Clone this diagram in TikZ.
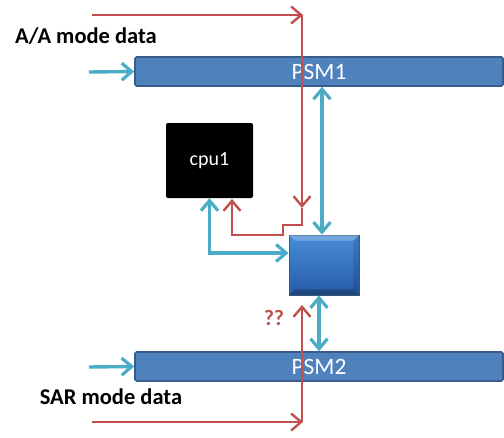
\documentclass[tikz,border=0pt]{standalone}
\usepackage{fontspec}
\setmainfont{Carlito}
\usetikzlibrary{arrows.meta,positioning,calc}
\definecolor{flowred}{RGB}{192,80,77}
\definecolor{linkcyan}{RGB}{75,172,198}
\definecolor{barblue}{RGB}{79,129,189}
\definecolor{barline}{RGB}{56,93,138}
\definecolor{hubtop}{RGB}{72,140,214}
\definecolor{hubbot}{RGB}{38,92,168}

\tikzset{
  psmbar/.style={draw=barline, line width=1.6pt, fill=barblue, rounded corners=1.5pt,
    minimum width=368pt, minimum height=29pt, inner sep=0pt, text=white, font=\fontsize{23.5}{23.5}\selectfont},
  cpubox/.style={fill=black, rounded corners=2pt, minimum width=87pt, minimum height=75pt,
    text=white, font=\fontsize{20}{20}\selectfont},
  hubbox/.style={draw=barline, line width=0.8pt, top color=hubtop, bottom color=hubbot,
    minimum width=70pt, minimum height=60pt, inner sep=0pt},
  modelabel/.style={font=\bfseries\fontsize{22.5}{22.5}\selectfont, inner sep=0pt},
  redflow/.style={draw=flowred, line width=2.4pt, -{Straight Barb[length=10pt,width=17pt,line width=2.4pt]}},
  cyanlink/.style={draw=linkcyan, line width=3.4pt, -{Straight Barb[length=10pt,width=17pt,line width=3.2pt]}},
  cyanboth/.style={cyanlink, {Straight Barb[length=10pt,width=17pt,line width=3.2pt]}-{Straight Barb[length=10pt,width=17pt,line width=3.2pt]}}
}

\begin{document}
\begin{tikzpicture}[x=1pt, y=-1pt]
  \useasboundingbox (0,0) rectangle (504,437);

  % labels
  \node[modelabel] (aadata) at (86,36) {A/A mode data};
  \node[modelabel] (sardata) at (111,397) {SAR mode data};

  % memories, cpu and the hub
  \node[psmbar] (psm1) at (319,71.5) {PSM1};
  \node[psmbar] (psm2) at (319,366.5) {PSM2};
  \node[cpubox] (cpu1) at (209.5,160.5) {cpu1};
  \node[hubbox] (hub) at (324,265) {};
  % bevel of the hub
  \fill[white, opacity=0.25] (hub.north west) -- (hub.north east) -- ([xshift=-6pt,yshift=-6pt]hub.north east) -- ([xshift=6pt,yshift=-6pt]hub.north west) -- cycle;
  \fill[black, opacity=0.25] (hub.south west) -- (hub.south east) -- ([xshift=-6pt,yshift=6pt]hub.south east) -- ([xshift=6pt,yshift=6pt]hub.south west) -- cycle;
  \fill[black, opacity=0.12] (hub.north east) -- (hub.south east) -- ([xshift=-6pt,yshift=6pt]hub.south east) -- ([xshift=-6pt,yshift=-6pt]hub.north east) -- cycle;

  % data inputs
  \coordinate (in1) at (89,72);
  \coordinate (in2) at (89,367);
  \draw[cyanlink] (in1) -- (psm1.west);
  \draw[cyanlink] (in2) -- (psm2.west);

  % links to the hub
  \draw[cyanboth] ([xshift=-2pt]hub.north |- psm1.south) -- ([xshift=-2pt]hub.north);
  \draw[cyanboth] ([xshift=-5pt]hub.south) -- ([xshift=-5pt]hub.south |- psm2.north);
  \draw[cyanboth] (cpu1.south) |- ([yshift=12pt]hub.west);

  % red control flow
  \coordinate (topstart) at (92,15);
  \coordinate (topturn) at (302,15);
  \coordinate (topdrop) at (302,208);
  \coordinate (botstart) at (92,422);
  \coordinate (botturn) at (302,422);
  \coordinate (botrise) at (302,305);
  \draw[redflow] (topstart) -- ([xshift=1pt]topturn);
  \draw[redflow] (topturn) -- (topdrop);
  \draw[redflow] (topdrop) -- (302,225) -- (283,225) -- (283,235) -- (232,235) -- (232,199);
  \draw[redflow] (botstart) -- ([xshift=1pt]botturn);
  \draw[redflow] (botturn) -- (botrise);
  \node[text=flowred, font=\bfseries\fontsize{22}{22}\selectfont] (qq) at (274,318) {??};
\end{tikzpicture}
\end{document}
